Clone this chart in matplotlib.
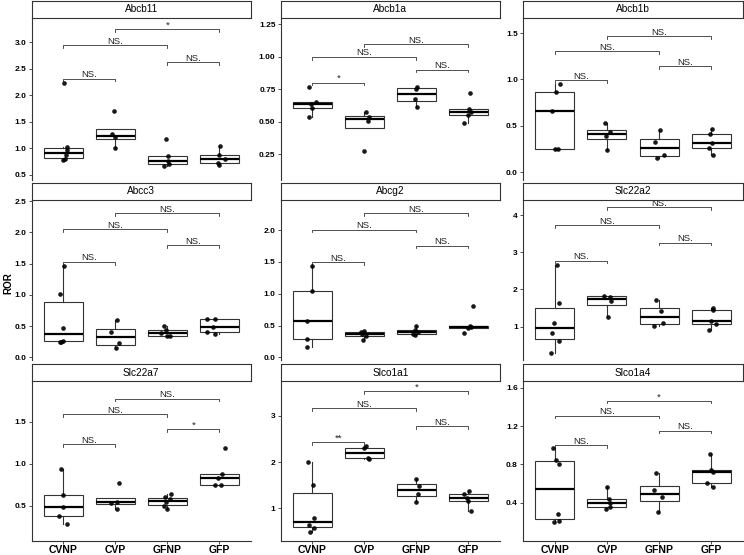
import matplotlib
matplotlib.use("Agg")
import matplotlib.pyplot as plt
import numpy as np
from matplotlib.ticker import FormatStrFormatter

plt.rcParams['font.family'] = ['Liberation Sans', 'DejaVu Sans']

groups = ["CVNP", "CVP", "GFNP", "GFP"]
genes = ["Abcb11", "Abcb1a", "Abcb1b", "Abcc3", "Abcg2",
         "Slc22a2", "Slc22a7", "Slco1a1", "Slco1a4"]
# bracket pairs, same order in every panel
pairs = [(0, 1), (2, 3), (0, 2), (1, 3)]

# ROR per group + horizontal jitter of each dot
abcb11 = [[2.23, 1.02, 0.96, 0.87, 0.78, 0.79], [1.71, 1.26, 1.22, 1.01],
          [1.18, 0.85, 0.76, 0.67, 0.70], [1.04, 0.87, 0.72, 0.80, 0.68]]
abcb11_jit = [[0.01, 0.08, 0.08, 0.06, 0.0, 0.04], [-0.02, -0.07, 0.0, 0.0],
              [-0.03, 0.01, 0.02, -0.06, 0.03], [0.01, 0.0, -0.03, 0.11, 0.0]]
abcb11_sig = ["NS.", "NS.", "NS.", "*"]
abcb11_bry = [2.315, 2.63, 2.944, 3.255]

abcb1a = [[0.764, 0.640, 0.655, 0.607, 0.536], [0.572, 0.536, 0.506, 0.276],
          [0.755, 0.770, 0.677, 0.616], [0.72, 0.598, 0.572, 0.552, 0.49]]
abcb1a_jit = [[-0.06, -0.03, 0.08, -0.01, -0.07], [0.03, 0.09, 0.07, -0.01],
              [0.0, 0.01, -0.03, 0.02], [0.03, 0.01, 0.06, -0.01, -0.09]]
abcb1a_sig = ["*", "NS.", "NS.", "NS."]
abcb1a_bry = [0.802, 0.902, 1.0, 1.10]

abcb1b = [[0.946, 0.861, 0.661, 0.246, 0.246], [0.525, 0.393, 0.432, 0.236],
          [0.457, 0.325, 0.154, 0.186], [0.468, 0.414, 0.314, 0.261, 0.186]]
abcb1b_jit = [[0.1, 0.02, -0.05, 0.0, 0.07], [-0.03, -0.01, 0.05, 0.0],
              [0.02, -0.08, -0.04, 0.09], [0.01, -0.03, 0.01, -0.04, 0.03]]
abcb1b_sig = ["NS.", "NS.", "NS.", "NS."]
abcb1b_bry = [0.993, 1.146, 1.307, 1.468]

abcc3 = [[1.46, 1.02, 0.478, 0.27, 0.255, 0.24], [0.606, 0.414, 0.225, 0.15],
         [0.50, 0.434, 0.386, 0.35, 0.34], [0.617, 0.612, 0.488, 0.413, 0.375]]
abcc3_jit = [[0.02, -0.06, 0.0, -0.01, -0.06, -0.04], [0.04, -0.08, 0.07, 0.01],
             [-0.06, -0.03, -0.13, -0.01, 0.06], [-0.24, -0.08, -0.13, -0.24, -0.08]]
abcc3_sig = ["NS.", "NS.", "NS.", "NS."]
abcc3_bry = [1.529, 1.792, 2.05, 2.307]

abcg2 = [[1.437, 1.037, 0.579, 0.289, 0.158], [0.41, 0.40, 0.368, 0.337, 0.279],
         [0.489, 0.426, 0.395, 0.368, 0.358], [0.816, 0.495, 0.458, 0.379, 0.484]]
abcg2_jit = [[-0.01, -0.01, -0.1, -0.11, -0.1], [0.0, -0.07, -0.05, 0.03, -0.02],
             [0.0, -0.02, 0.03, -0.06, -0.03], [0.09, 0.03, -0.01, -0.08, 0.05]]
abcg2_sig = ["NS.", "NS.", "NS.", "NS."]
abcg2_bry = [1.5, 1.758, 2.01, 2.263]

slc22a2 = [[2.66, 1.64, 1.09, 0.84, 0.61, 0.28], [1.82, 1.81, 1.69, 1.27],
           [1.71, 1.42, 1.10, 1.01], [1.51, 1.45, 1.15, 1.06, 0.92]]
slc22a2_jit = [[0.04, 0.08, -0.01, -0.05, 0.09, -0.08], [-0.05, 0.06, 0.07, 0.02],
               [-0.06, 0.03, 0.07, -0.09], [0.04, 0.03, 0.0, 0.09, -0.04]]
slc22a2_sig = ["NS.", "NS.", "NS.", "NS."]
slc22a2_bry = [2.78, 3.26, 3.73, 4.21]

slc22a7 = [[0.933, 0.623, 0.48, 0.381, 0.278], [0.766, 0.536, 0.54, 0.46],
           [0.643, 0.60, 0.54, 0.50, 0.456, 0.575], [1.183, 0.877, 0.825, 0.742, 0.742]]
slc22a7_jit = [[-0.04, -0.01, 0.0, -0.09, 0.08], [0.08, -0.08, 0.04, 0.03],
               [0.08, -0.04, -0.03, -0.06, -0.01, 0.06], [0.11, 0.06, -0.03, -0.08, 0.03]]
slc22a7_sig = ["NS.", "*", "NS.", "NS."]
slc22a7_bry = [1.23, 1.413, 1.587, 1.774]

slco1a1 = [[2.0, 1.51, 0.78, 0.64, 0.57, 0.49], [2.34, 2.30, 2.06, 2.10],
           [1.635, 1.49, 1.30, 1.14], [1.38, 1.30, 1.16, 0.95, 1.22]]
slco1a1_jit = [[-0.08, 0.01, 0.03, -0.07, 0.04, -0.04], [0.03, -0.01, 0.09, 0.08],
               [-0.01, 0.05, 0.03, -0.01], [0.02, -0.09, -0.01, 0.06, -0.03]]
slco1a1_sig = ["**", "NS.", "NS.", "*"]
slco1a1_bry = [2.43, 2.783, 3.173, 3.534]

slco1a4 = [[0.969, 0.85, 0.80, 0.281, 0.198, 0.208], [0.56, 0.44, 0.40, 0.33, 0.36],
           [0.707, 0.529, 0.463, 0.303], [0.906, 0.738, 0.724, 0.609, 0.56]]
slco1a4_jit = [[-0.04, 0.02, 0.08, 0.07, -0.01, 0.09], [0.0, 0.04, 0.05, -0.01, 0.06],
               [-0.06, -0.1, 0.06, -0.03], [-0.03, -0.01, 0.03, -0.08, 0.03]]
slco1a4_sig = ["NS.", "NS.", "NS.", "*"]
slco1a4_bry = [1.004, 1.153, 1.31, 1.467]

values = [abcb11, abcb1a, abcb1b, abcc3, abcg2, slc22a2, slc22a7, slco1a1, slco1a4]
jitters = [abcb11_jit, abcb1a_jit, abcb1b_jit, abcc3_jit, abcg2_jit,
           slc22a2_jit, slc22a7_jit, slco1a1_jit, slco1a4_jit]
sigs = [abcb11_sig, abcb1a_sig, abcb1b_sig, abcc3_sig, abcg2_sig,
        slc22a2_sig, slc22a7_sig, slco1a1_sig, slco1a4_sig]
brys = [abcb11_bry, abcb1a_bry, abcb1b_bry, abcc3_bry, abcg2_bry,
        slc22a2_bry, slc22a7_bry, slco1a1_bry, slco1a4_bry]

# free y scales
ylims = [(0.40, 3.46), (0.05, 1.30), (-0.086, 1.664),
         (-0.04, 2.516), (-0.04, 2.474), (0.10, 4.41),
         (0.079, 1.984), (0.292, 3.758), (0.0, 1.673)]
yticks = [[0.5, 1.0, 1.5, 2.0, 2.5, 3.0], [0.25, 0.5, 0.75, 1.0, 1.25], [0.0, 0.5, 1.0, 1.5],
          [0.0, 0.5, 1.0, 1.5, 2.0, 2.5], [0.0, 0.5, 1.0, 1.5, 2.0], [1, 2, 3, 4],
          [0.5, 1.0, 1.5], [1, 2, 3], [0.4, 0.8, 1.2, 1.6]]
yfmt = ['%.1f', '%.2f', '%.1f', '%.1f', '%.1f', '%d', '%.1f', '%d', '%.1f']

W, H = 744, 555
fig = plt.figure(figsize=(W / 100, H / 100), dpi=100)
cols = [(32.1, 250.5), (281.1, 499.5), (523.4, 742.6)]
rows = [(18, 180), (200, 360), (381, 541)]
strip_h = 17
dark = '#333333'

for k, gene in enumerate(genes):
    r, c = divmod(k, 3)
    l, rt = cols[c]
    t, b = rows[r]
    ax = fig.add_axes([l / W, 1 - b / H, (rt - l) / W, (b - t) / H])
    st = fig.add_axes([l / W, 1 - t / H, (rt - l) / W, strip_h / H])
    st.set_xticks([])
    st.set_yticks([])
    for s in st.spines.values():
        s.set_color(dark)
        s.set_linewidth(0.8)
    st.text(0.5, 0.5, gene, ha='center', va='center', fontsize=7.3, transform=st.transAxes)

    vals = values[k]
    ax.boxplot(vals, positions=[1, 2, 3, 4], widths=0.75, showfliers=False, showcaps=False,
               patch_artist=True,
               boxprops=dict(facecolor='white', edgecolor=dark, linewidth=0.8),
               whiskerprops=dict(color=dark, linewidth=0.8),
               medianprops=dict(color='black', linewidth=1.6))
    for i in range(4):
        xs = i + 1 + np.array(jitters[k][i])
        ax.scatter(xs, vals[i], s=11, color='black', alpha=0.9, lw=0, zorder=3)

    lo, hi = ylims[k]
    tip = 0.017 * (hi - lo)
    for (a, bb), lab, y in zip(pairs, sigs[k], brys[k]):
        ax.plot([a + 1, a + 1, bb + 1, bb + 1], [y - tip, y, y, y - tip], color=dark, lw=0.6)
        ax.annotate(lab, xy=((a + bb) / 2 + 1, y), xytext=(0, 1), textcoords='offset points',
                    ha='center', va='baseline', fontsize=6.8, color='#222222')

    ax.set_xlim(0.4, 4.6)
    ax.set_ylim(lo, hi)
    ax.set_yticks(yticks[k])
    ax.yaxis.set_major_formatter(FormatStrFormatter(yfmt[k]))
    ax.spines['top'].set_visible(False)
    ax.spines['right'].set_visible(False)
    ax.spines['left'].set_color(dark)
    ax.spines['left'].set_linewidth(0.8)
    ax.tick_params(axis='y', length=2.5, width=0.6, color=dark, pad=1.5, labelsize=6)
    for lb in ax.get_yticklabels():
        lb.set_fontweight('bold')
    if r == 2:
        ax.spines['bottom'].set_color(dark)
        ax.spines['bottom'].set_linewidth(0.8)
        ax.set_xticks([1, 2, 3, 4])
        ax.set_xticklabels(groups, fontsize=7.5, fontweight='bold')
        ax.tick_params(axis='x', length=2, width=0.6, color=dark, pad=0.8)
    else:
        ax.spines['bottom'].set_visible(False)
        ax.set_xticks([])

fig.text(8 / W, 1 - 283 / H, 'ROR', rotation=90, fontsize=7.1, fontweight='bold',
         ha='center', va='center')

fig.savefig('out.png', dpi=100)
